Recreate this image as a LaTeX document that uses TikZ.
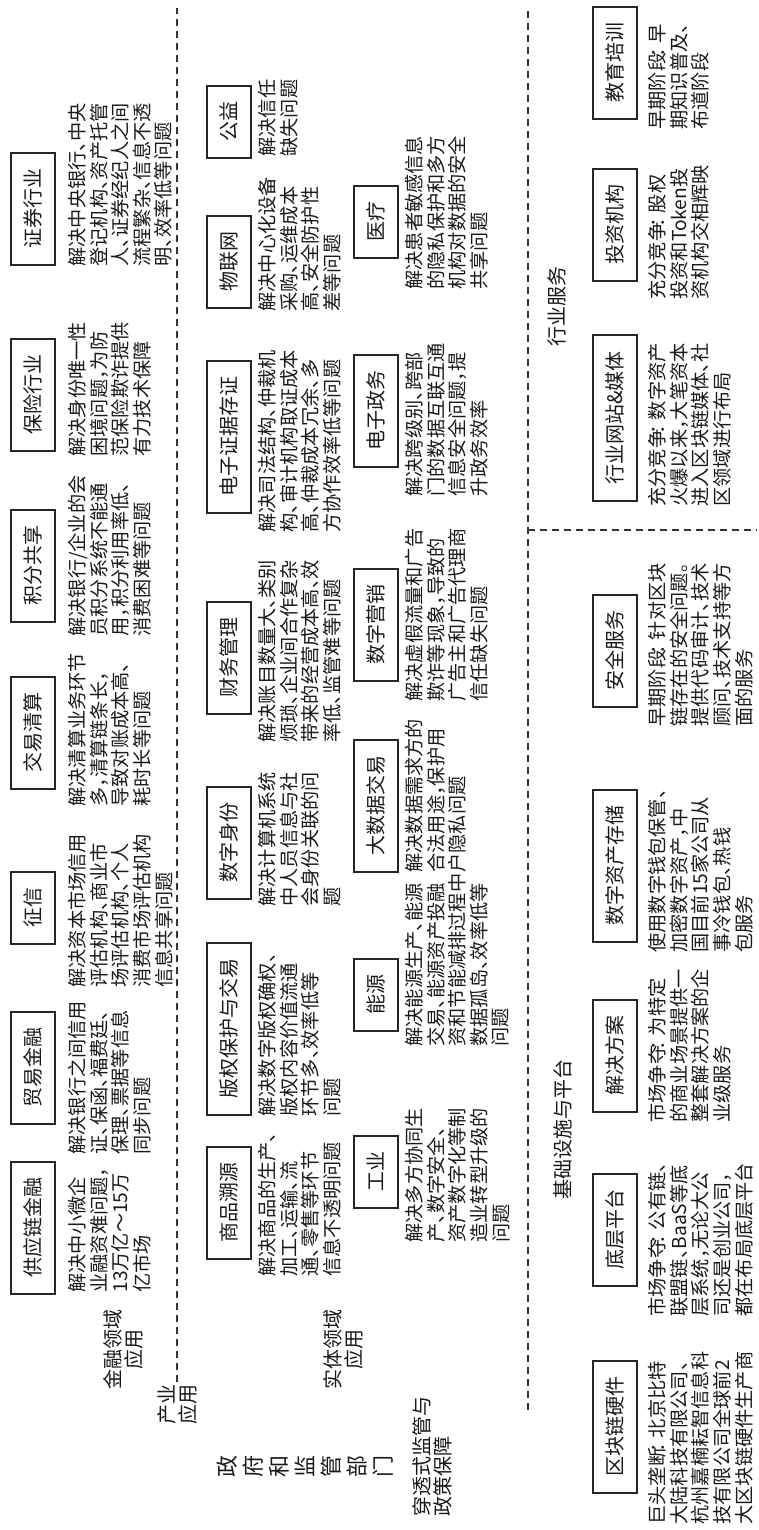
\documentclass[tikz,border=0pt]{standalone}
\usepackage{fontspec}
\newfontfamily\cjk{Noto Sans CJK SC}
\newcommand\hpd{\makebox[0.5em][l]{、}}
\newcommand\hpc{\makebox[0.5em][l]{，}}
\newcommand\hpo{\makebox[0.5em][c]{：}}
\newcommand\hpj{\makebox[0.5em][l]{。}}
\begin{document}
\begin{tikzpicture}[x=0.5pt,y=0.5pt]
\tikzset{
  catbox/.style={draw=black!85, line width=1pt, text=black!90, font=\cjk\fontsize{10}{12}\selectfont,
    inner xsep=8pt, inner ysep=0pt, minimum height=22pt, text height=8.5pt, text depth=1.5pt},
  desctext/.style={anchor=north west, inner sep=0pt, align=left, text=black!90,
    font=\cjk\fontsize{9.6}{10.8}\selectfont},
  grouplabel/.style={inner sep=0pt, align=center, text=black!90, font=\cjk\fontsize{10}{10.8}\selectfont},
  divline/.style={draw=black!80, line width=0.6pt, dash pattern=on 3.5pt off 2.5pt}
}
\useasboundingbox (0,0) rectangle (759,1530);
\begin{scope}[rotate=90, transform shape]
% ---------- dividing lines ----------
\coordinate (a1) at (148,-177);  \coordinate (a2) at (1522,-177);
\coordinate (b1) at (120,-528);  \coordinate (b2) at (1522,-528);
\coordinate (c1) at (1000,-528); \coordinate (c2) at (1000,-757);
\draw[divline] (a1) -- (a2);
\draw[divline] (b1) -- (b2);
\draw[divline] (c1) -- (c2);

% ---------- row 1 : finance ----------
\node[catbox] (r1a) at (302,-33) {供应链金融};
\node[catbox] (r1b) at (462,-33) {贸易金融};
\node[catbox] (r1c) at (622,-33) {征信};
\node[catbox] (r1d) at (797,-33) {交易清算};
\node[catbox] (r1e) at (964,-33) {积分共享};
\node[catbox] (r1f) at (1135,-33) {保险行业};
\node[catbox] (r1g) at (1321,-33) {证券行业};

\node[desctext] (t1a) at (237,-68) {解决中小微企\\业融资难问题\hpc\\13万亿～15万\\亿市场};
\node[desctext] (t1b) at (375,-68) {解决银行之间信用\\证\hpd 保函\hpd 福费廷\hpd\\保理\hpd 票据等信息\\同步问题};
\node[desctext] (t1c) at (542,-68) {解决资本市场信用\\评估机构\hpd 商业市\\场评估机构\hpd 个人\\消费市场评估机构\\信息共享问题};
\node[desctext] (t1d) at (723,-68) {解决清算业务环节\\多\hpc 清算链条长\hpc\\导致对账成本高\hpd\\耗时长等问题};
\node[desctext] (t1e) at (893,-68) {解决银行/企业的会\\员积分系统不能通\\用\hpc 积分利用率低\hpd\\消费困难等问题};
\node[desctext] (t1f) at (1073,-68) {解决身份唯一性\\困境问题\hpc 为防\\范保险欺诈提供\\有力技术保障};
\node[desctext] (t1g) at (1263,-68) {解决中央银行\hpd 中央\\登记机构\hpd 资产托管\\人\hpd 证券经纪人之间\\流程繁杂\hpd 信息不透\\明\hpd 效率低等问题};

% ---------- row 2 : real economy ----------
\node[catbox] (r2a) at (327,-229) {商品溯源};
\node[catbox] (r2b) at (501,-229) {版权保护与交易};
\node[catbox] (r2c) at (687,-229) {数字身份};
\node[catbox] (r2d) at (872,-229) {财务管理};
\node[catbox] (r2e) at (1093,-229) {电子证据存证};
\node[catbox] (r2f) at (1268,-229) {物联网};
\node[catbox] (r2g) at (1408,-229) {公益};

\node[desctext] (t2a) at (253,-258) {解决商品的生产\hpd\\加工\hpd 运输\hpd 流\\通\hpd 零售等环节\\信息不透明问题};
\node[desctext] (t2b) at (413,-258) {解决数字版权确权\hpd\\版权内容价值流通\\环节多\hpd 效率低等\\问题};
\node[desctext] (t2c) at (623,-258) {解决计算机系统\\中人员信息与社\\会身份关联的问\\题};
\node[desctext] (t2d) at (787,-258) {解决账目数量大\hpd 类别\\烦琐\hpd 企业间合作复杂\\带来的经营成本高\hpd 效\\率低\hpd 监管难等问题};
\node[desctext] (t2e) at (997,-258) {解决司法结构\hpd 仲裁机\\构\hpd 审计机构取证成本\\高\hpd 仲裁成本冗余\hpd 多\\方协作效率低等问题};
\node[desctext] (t2f) at (1218,-258) {解决中心化设备\\采购\hpd 运维成本\\高\hpd 安全防护性\\差等问题};
\node[desctext] (t2g) at (1373,-258) {解决信任\\缺失问题};

% ---------- row 3 ----------
\node[catbox] (r3a) at (358,-376) {工业};
\node[catbox] (r3b) at (535,-376) {能源};
\node[catbox] (r3c) at (724,-376) {大数据交易};
\node[catbox] (r3d) at (905,-376) {数字营销};
\node[catbox] (r3e) at (1119,-376) {电子政务};
\node[catbox] (r3f) at (1308,-376) {医疗};

\node[desctext] (t3a) at (287,-405) {解决多方协同生\\产\hpd 数字安全\hpd\\资产数字化等制\\造业转型升级的\\问题};
\node[desctext] (t3b) at (483,-405) {解决能源生产\hpd 能源\\交易\hpd 能源资产投融\\资和节能减排过程中\\数据孤岛\hpd 效率低等\\问题};
\node[desctext] (t3c) at (657,-405) {解决数据需求方的\\合法用途\hpc 保护用\\户隐私问题};
\node[desctext] (t3d) at (828,-405) {解决虚假流量和广告\\欺诈等现象\hpc 导致的\\广告主和广告代理商\\信任缺失问题};
\node[desctext] (t3e) at (1033,-405) {解决跨级别\hpd 跨部\\门的数据互联互通\\信息安全问题\hpc 提\\升政务效率};
\node[desctext] (t3f) at (1240,-405) {解决患者敏感信息\\的隐私保护和多方\\机构对数据的安全\\共享问题};

% ---------- row 4 : infrastructure & services ----------
\node[catbox] (r4a) at (103,-615) {区块链硬件};
\node[catbox] (r4b) at (300,-615) {底层平台};
\node[catbox] (r4c) at (474,-615) {解决方案};
\node[catbox] (r4d) at (664,-615) {数字资产存储};
\node[catbox] (r4e) at (879,-615) {安全服务};
\node[catbox] (r4f) at (1112,-615) {行业网站\&媒体};
\node[catbox] (r4g) at (1305,-615) {投资机构};
\node[catbox] (r4h) at (1467,-615) {教育培训};

\node[desctext] (t4a) at (5,-648) {巨头垄断\hpo 北京比特\\大陆科技有限公司\hpd\\杭州嘉楠耘智信息科\\技有限公司全球前2\\大区块链硬件生产商};
\node[desctext] (t4b) at (213,-648) {市场争夺\hpo 公有链\hpd\\联盟链\hpd BaaS等底\\层系统\hpc 无论大公\\司还是创业公司\hpc\\都在布局底层平台};
\node[desctext] (t4c) at (407,-648) {市场争夺\hpo 为特定\\的商业场景提供一\\整套解决方案的企\\业级服务};
\node[desctext] (t4d) at (577,-648) {使用数字钱包保管\hpd\\加密数字资产\hpc 中\\国目前15家公司从\\事冷钱包\hpd 热钱\\包服务};
\node[desctext] (t4e) at (803,-648) {早期阶段\hpo 针对区块\\链存在的安全问题\hpj\\提供代码审计\hpd 技术\\顾问\hpd 技术支持等方\\面的服务};
\node[desctext] (t4f) at (1023,-648) {充分竞争\hpo 数字资产\\火爆以来\hpc 大笔资本\\进入区块链媒体\hpd 社\\区领域进行布局};
\node[desctext] (t4g) at (1230,-648) {充分竞争\hpo 股权\\投资和Token投\\资机构交相辉映};
\node[desctext] (t4h) at (1400,-648) {早期阶段\hpo 早\\期知识普及\hpd\\布道阶段};

% ---------- group labels ----------
\node[grouplabel, anchor=north] (g1) at (180,-103) {金融领域\\应用};
\node[grouplabel, anchor=north] (g2) at (125,-157) {产业\\应用};
\node[grouplabel, anchor=north] (g3) at (180,-323) {实体领域\\应用};
\node[grouplabel, font=\cjk\fontsize{11}{13}\selectfont] (g4) at (63,-305) {政\\府\\和\\监\\管\\部\\门};
\node[grouplabel, anchor=north west, align=left] (g5) at (13,-412) {穿透式监管与\\政策保障};
\node[grouplabel] (g6) at (400,-563) {基础设施与平台};
\node[grouplabel] (g7) at (1223,-557) {行业服务};
\end{scope}
\end{tikzpicture}
\end{document}
